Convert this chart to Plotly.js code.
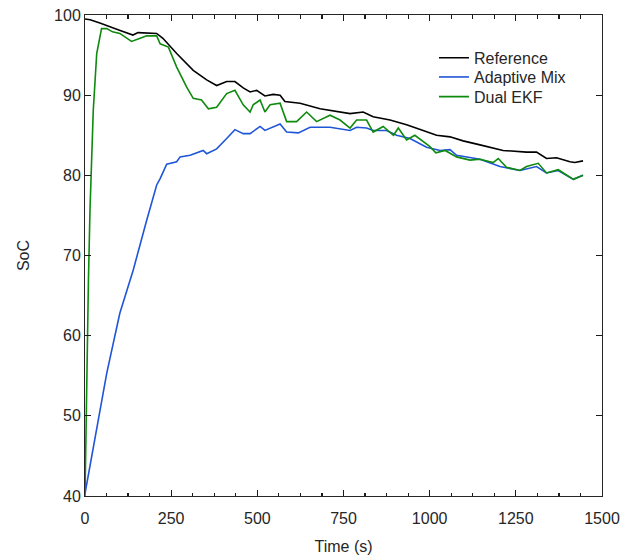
<!DOCTYPE html>
<html>
<head>
<meta charset="utf-8">
<script src="https://cdn.plot.ly/plotly-3.0.1.min.js"></script>
<style>html,body{margin:0;padding:0;background:#fff;}#chart{width:622px;height:557px;}</style>
</head>
<body>
<div id="chart"></div>
<script>
// Reference SoC
const refT = [0,15,43,72,100,139,154,208,226,266,314,353,382,411,435,459,479,498,522,546,566,580,624,682,740,769,807,836,885,933,981,1020,1059,1097,1146,1213,1281,1310,1339,1368,1407,1421,1445];
const refSoC = [99.5,99.4,99.0,98.5,98.1,97.5,97.8,97.7,97.1,95.2,93.1,91.9,91.2,91.7,91.7,90.9,90.4,90.6,89.9,90.1,90.0,89.2,89.0,88.3,87.9,87.7,87.9,87.3,86.9,86.3,85.6,85.0,84.8,84.3,83.8,83.1,82.9,82.9,82.1,82.2,81.7,81.6,81.8];

// Adaptive Mix
const mixT = [0,29,63,101,140,179,208,218,237,266,276,305,343,353,382,411,435,459,479,508,522,566,585,619,653,711,740,769,788,817,836,875,904,943,991,1030,1059,1078,1146,1204,1262,1310,1339,1373,1417,1445];
const mixSoC = [40.3,47,55.3,62.8,68.2,74.4,78.8,79.6,81.4,81.7,82.3,82.5,83.1,82.7,83.3,84.6,85.7,85.2,85.2,86.1,85.6,86.4,85.4,85.3,86.0,86.0,85.8,85.6,86.0,85.9,85.6,85.6,85.0,84.6,83.5,83.1,83.2,82.5,82.0,81.1,80.6,81.1,80.3,80.6,79.5,80.0];

// Dual EKF
const ekfT = [0,5,10,14.5,20,24,34,48,63,80,101,135,160,179,208,218,242,266,295,314,338,358,382,411,435,459,479,488,508,522,537,566,585,614,643,672,711,740,769,788,817,836,865,895,909,933,957,981,1000,1018,1045,1078,1117,1146,1184,1199,1223,1262,1281,1315,1339,1373,1417,1445];
const ekfSoC = [40,55,67,75.7,83.5,88.1,95.2,98.3,98.3,97.9,97.7,96.7,97.1,97.4,97.4,96.4,96.0,93.5,91.0,89.6,89.4,88.3,88.5,90.2,90.6,88.8,87.9,88.8,89.4,87.9,88.8,89.0,86.7,86.7,87.9,86.7,87.5,86.9,85.9,86.9,86.9,85.4,86.1,85.0,85.9,84.4,85.0,84.2,83.6,82.8,83.1,82.3,81.9,82.0,81.6,82.1,81.0,80.6,81.1,81.5,80.3,80.7,79.5,80.0];

const xTicks = [0,250,500,750,1000,1250,1500];
const yTicks = [40,50,60,70,80,90,100];

const font = {family: '"Liberation Sans", Arial, sans-serif', size: 16, color: '#262626'};

const traces = [
  {x: refT, y: refSoC, name: 'Reference', mode: 'lines', line: {color: '#000000', width: 1.6}, legend: 'legend'},
  {x: mixT, y: mixSoC, name: 'Adaptive Mix', mode: 'lines', line: {color: '#1f55d8', width: 1.6}, legend: 'legend2'},
  {x: ekfT, y: ekfSoC, name: 'Dual EKF', mode: 'lines', line: {color: '#0e8a0e', width: 1.6}, legend: 'legend3'}
];

const legendBase = {x: 0.675, xanchor: 'left', yanchor: 'middle', bgcolor: 'rgba(0,0,0,0)', borderwidth: 0, font: font};

const layout = {
  width: 622, height: 557,
  margin: {l: 85, r: 20, t: 15, b: 61},
  paper_bgcolor: '#ffffff', plot_bgcolor: '#ffffff',
  font: font,
  showlegend: true,
  legend: Object.assign({}, legendBase, {y: 0.911}),
  legend2: Object.assign({}, legendBase, {y: 0.871}),
  legend3: Object.assign({}, legendBase, {y: 0.830}),
  xaxis: {
    showline: true, linecolor: '#262626', linewidth: 1, mirror: 'ticks',
    ticks: 'inside', ticklen: 6, tickwidth: 1.2, tickcolor: '#1a1a1a',
    showgrid: false, zeroline: false, tickfont: font, ticklabelstandoff: 8,
    range: [0, 1500], tickmode: 'array', tickvals: xTicks, ticktext: xTicks.map(String),
    minor: {dtick: 62.5, ticks: 'inside', ticklen: 3.5, tickwidth: 1.2, tickcolor: '#1a1a1a', showgrid: false},
    title: {text: 'Time (s)', font: font, standoff: 14}
  },
  yaxis: {
    showline: true, linecolor: '#262626', linewidth: 1, mirror: 'ticks',
    ticks: 'inside', ticklen: 6, tickwidth: 1.2, tickcolor: '#1a1a1a',
    showgrid: false, zeroline: false, tickfont: font,
    range: [40, 100], tickmode: 'array', tickvals: yTicks, ticktext: yTicks.map(String),
    title: {text: 'SoC', font: font, standoff: 20}
  }
};

Plotly.newPlot('chart', traces, layout, {displayModeBar: false, staticPlot: true});
</script>
</body>
</html>
